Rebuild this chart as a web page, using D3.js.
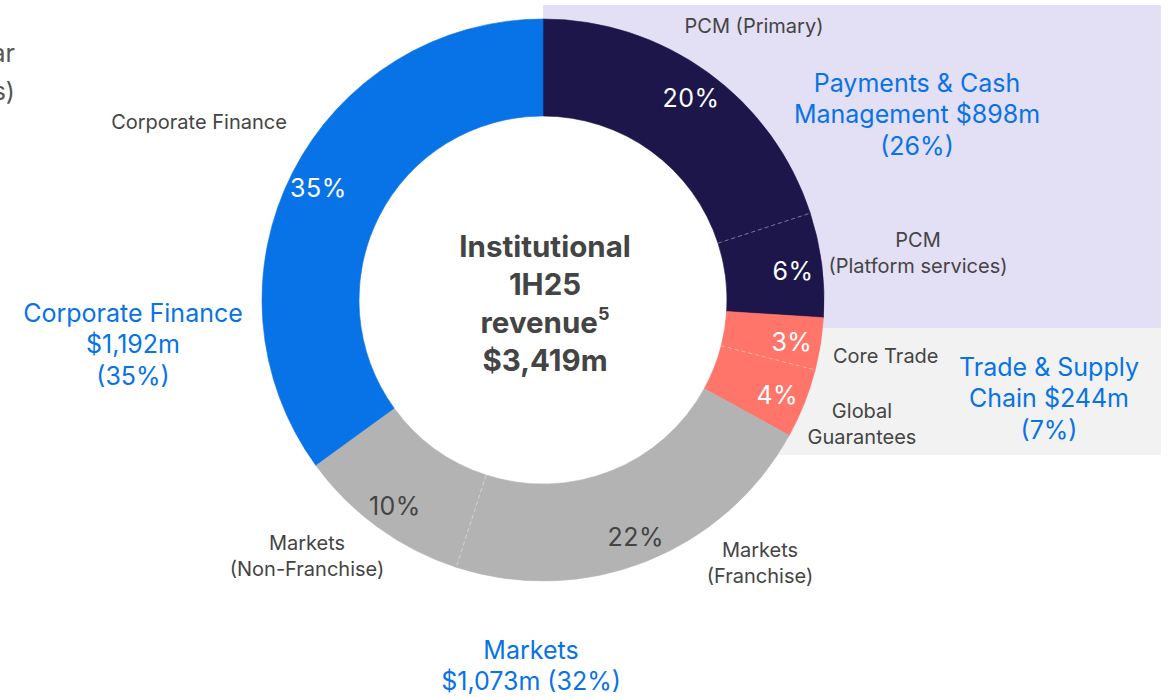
<!DOCTYPE html>
<html>
<head>
<meta charset="utf-8">
<script src="https://cdn.jsdelivr.net/npm/d3@7"></script>
<style>
  html, body { margin: 0; padding: 0; background: #fff; }
  svg { display: block; font-family: Inter, "Noto Sans", sans-serif; }
</style>
</head>
<body>
<svg id="chart" width="1168" height="697"></svg>
<script>
// Institutional revenue split, 1H25 (share of total, %)
const segments = ["PCM (Primary)", "PCM (Platform services)", "Core Trade", "Global Guarantees",
                  "Markets (Franchise)", "Markets (Non-Franchise)", "Corporate Finance"];
const shares   = [20, 6, 3, 4, 22, 10, 35];
const groups   = ["PCM", "PCM", "Trade", "Trade", "Markets", "Markets", "CF"];
const shareLabels = ["20%", "6%", "3%", "4%", "22%", "10%", "35%"];

// Business groups with their totals
const groupNames  = ["PCM", "Trade", "Markets", "CF"];
const groupTitles = [
  ["Payments & Cash", "Management $898m", "(26%)"],
  ["Trade & Supply", "Chain $244m", "(7%)"],
  ["Markets", "$1,073m (32%)"],
  ["Corporate Finance", "$1,192m", "(35%)"]
];
const centreLines = ["Institutional", "1H25", "revenue", "$3,419m"];

const colour = d3.scaleOrdinal()
  .domain(groupNames)
  .range(["#1d164a", "#ff756a", "#b3b3b3", "#0873e6"]);
const pctColour = { PCM: "#ffffff", Trade: "#ffffff", Markets: "#444444", CF: "#ffffff" };

const svg = d3.select("#chart");
const cx = 543, cy = 300, rOuter = 281, rInner = 184;
const textShift = 2.5; // vertical nudge for middle-baseline text

// Shaded panels behind the PCM and Trade groups
svg.append("rect").attr("x", 543).attr("y", 5).attr("width", 618).attr("height", 323).attr("fill", "#e3dff5");
svg.append("rect").attr("x", 720).attr("y", 328).attr("width", 441).attr("height", 127).attr("fill", "#f2f2f2");

// Heading running off the left edge
const headG = svg.append("g").attr("fill", "#555").attr("font-size", 25).attr("text-anchor", "end");
headG.append("text").attr("x", 15).attr("y", 62).text("Half year");
headG.append("text").attr("x", 15).attr("y", 100).text("(A$ millions)");

const pie = d3.pie().sort(null).value(d => d.v);
const arcs = pie(segments.map((s, i) => ({ name: s, v: shares[i], g: groups[i], lbl: shareLabels[i] })));
const arc = d3.arc().innerRadius(rInner).outerRadius(rOuter);

const g = svg.append("g").attr("transform", `translate(${cx},${cy})`);
g.append("circle").attr("r", rInner).attr("fill", "#fff");

g.selectAll("path.slice").data(arcs).join("path")
  .attr("class", "slice")
  .attr("d", arc)
  .attr("fill", d => colour(d.data.g))
  .attr("stroke", d => colour(d.data.g))
  .attr("stroke-width", 0.6);

// Dashed dividers between segments of the same group
const inner = arcs.filter((d, i) => i < arcs.length - 1 && arcs[i + 1].data.g === d.data.g);
g.selectAll("line.div").data(inner).join("line")
  .attr("x1", d => rInner * Math.sin(d.endAngle))
  .attr("y1", d => -rInner * Math.cos(d.endAngle))
  .attr("x2", d => rOuter * Math.sin(d.endAngle))
  .attr("y2", d => -rOuter * Math.cos(d.endAngle))
  .attr("stroke", "#ffffff").attr("stroke-opacity", 0.4)
  .attr("stroke-width", 1).attr("stroke-dasharray", "4,3");

// Percentage labels inside the ring
const pctArc = d3.arc().innerRadius(252).outerRadius(252);
g.selectAll("text.pct").data(arcs).join("text")
  .attr("class", "pct")
  .attr("transform", d => `translate(${pctArc.centroid(d)})`)
  .attr("text-anchor", "middle").attr("dy", "0.45em")
  .attr("font-size", 25).attr("letter-spacing", 0.5)
  .attr("fill", d => pctColour[d.data.g])
  .text(d => d.data.lbl);

// Segment labels outside the ring
const segLabelPos = [
  { lines: ["PCM (Primary)"], x: 754, y: 25, anchor: "middle" },
  { lines: ["PCM", "(Platform services)"], x: 918, y: 239, anchor: "middle" },
  { lines: ["Core Trade"], x: 833, y: 355, anchor: "start" },
  { lines: ["Global", "Guarantees"], x: 862, y: 410, anchor: "middle" },
  { lines: ["Markets", "(Franchise)"], x: 760, y: 549, anchor: "middle" },
  { lines: ["Markets", "(Non-Franchise)"], x: 307, y: 542, anchor: "middle" },
  { lines: ["Corporate Finance"], x: 199, y: 121, anchor: "middle" }
];
segLabelPos.forEach(p => {
  const t = svg.append("text").attr("fill", "#444").attr("font-size", 20)
    .attr("text-anchor", p.anchor).attr("dominant-baseline", "middle");
  p.lines.forEach((l, i) => t.append("tspan").attr("x", p.x).attr("y", p.y + textShift + i * 26).text(l));
});

// Group totals
const groupPos = [
  { x: 917, y: 82 }, { x: 1049, y: 366 }, { x: 531, y: 649 }, { x: 133, y: 312 }
];
groupTitles.forEach((lines, k) => {
  const t = svg.append("text").attr("fill", "#0873e6").attr("font-size", 25)
    .attr("text-anchor", "middle").attr("dominant-baseline", "middle");
  lines.forEach((l, i) => t.append("tspan").attr("x", groupPos[k].x).attr("y", groupPos[k].y + textShift + i * 31.5).text(l));
});

// Centre title
const ct = svg.append("text").attr("fill", "#444").attr("font-size", 29.5).attr("font-weight", 700)
  .attr("text-anchor", "middle").attr("dominant-baseline", "middle");
centreLines.forEach((l, i) => {
  ct.append("tspan").attr("x", cx + 2).attr("y", 246 + textShift + i * 38).text(l);
  if (l === "revenue") ct.append("tspan").attr("font-size", 18).attr("dy", -10).text("5");
});
</script>
</body>
</html>
